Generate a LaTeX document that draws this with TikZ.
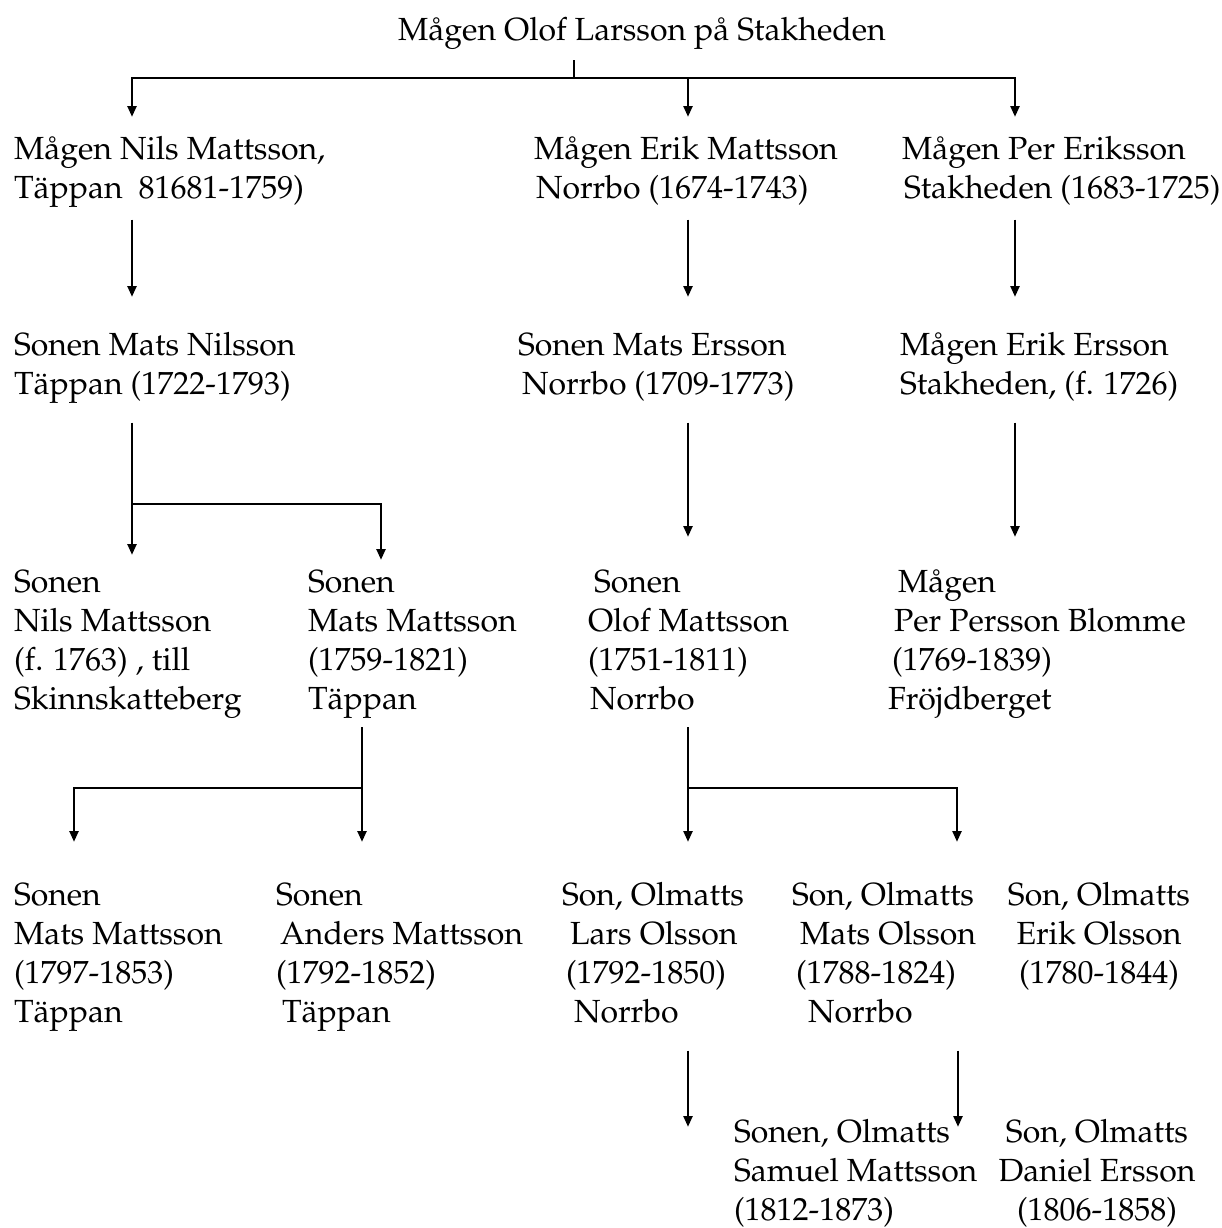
\documentclass[tikz,border=0pt]{standalone}
\usepackage[T1]{fontenc}
\usepackage{mathpazo}
\usetikzlibrary{arrows.meta}
\usetikzlibrary{calc}
\tikzstyle{person} = [anchor=base west, inner sep=0pt, outer sep=0pt, align=left, font=\fontsize{16}{19.5}\selectfont, execute at end node={\rule[-5.85pt]{0pt}{0pt}}]
\tikzstyle{arrow_line} = [->, draw=black, line width=1.4pt]
\tikzstyle{arrow_stub} = [-, draw=black, line width=1.4pt]

\begin{document}
\begin{tikzpicture}[-, > = {Triangle[length=5.5pt,width=4.4pt]}, x=0.5pt, y=-0.5pt]
  \useasboundingbox (0,0) rectangle (1222,1228);

  % Generation 0 (nodes sit on the baseline of their last line)
  \node[person, anchor=base] (root) at (642,40) {Mågen Olof Larsson på Stakheden};

  % Generation 1
  \node[person] (nils) at (14,198) {Mågen Nils Mattsson,\\Täppan~ 81681-1759)};
  \node[person] (erik) at (534,198) {Mågen Erik Mattsson\\\hspace*{1pt}Norrbo (1674-1743)};
  \node[person] (per) at (902,198) {Mågen Per Eriksson\\\hspace*{1pt}Stakheden (1683-1725)};

  % Generation 2
  \node[person] (mats_nilsson) at (14,394) {Sonen Mats Nilsson\\Täppan (1722-1793)};
  \node[person] (mats_ersson) at (518,394) {Sonen Mats Ersson\\\hspace*{2pt}Norrbo (1709-1773)};
  \node[person] (erik_ersson) at (900,394) {Mågen Erik Ersson\\Stakheden, (f. 1726)};

  % Generation 3
  \node[person] (nils_mattsson) at (14,709) {Sonen\\Nils Mattsson\\(f. 1763) , till\\Skinnskatteberg};
  \node[person] (mats_mattsson) at (308,709) {Sonen\\Mats Mattsson\\(1759-1821)\\Täppan};
  \node[person] (olof) at (588,709) {\hspace*{3pt}Sonen\\Olof Mattsson\\(1751-1811)\\\hspace*{1pt}Norrbo};
  \node[person] (per_persson) at (888,709) {\hspace*{5pt}Mågen\\\hspace*{3pt}Per Persson Blomme\\\hspace*{2pt}(1769-1839)\\Fröjdberget};

  % Generation 4
  \node[person] (mats_mattsson2) at (14,1022) {Sonen\\Mats Mattsson\\(1797-1853)\\Täppan};
  \node[person] (anders) at (276,1022) {Sonen\\\hspace*{2pt}Anders Mattsson\\(1792-1852)\\\hspace*{3pt}Täppan};
  \node[person] (lars) at (562,1022) {Son, Olmatts\\\hspace*{4pt}Lars Olsson\\\hspace*{2pt}(1792-1850)\\\hspace*{6pt}Norrbo};
  \node[person] (mats_olsson) at (792,1022) {Son, Olmatts\\\hspace*{4pt}Mats Olsson\\\hspace*{2pt}(1788-1824)\\\hspace*{8pt}Norrbo};
  \node[person, anchor=base, align=center] (erik_olsson) at (1099,983) {Son, Olmatts\\Erik Olsson\\(1780-1844)};

  % Generation 5
  \node[person] (samuel) at (734,1220) {Sonen, Olmatts\\Samuel Mattsson\\(1812-1873)};
  \node[person, anchor=base, align=center] (daniel) at (1097,1220) {Son, Olmatts\\Daniel Ersson\\(1806-1858)};

  % Split points
  \coordinate (root_split) at (574,78);
  \coordinate (nils_split) at (132,504);
  \coordinate (mats_split) at (362,788);
  \coordinate (olof_split) at (688,788);

  % Arrow tips
  \coordinate (nils_tip) at (132,117);
  \coordinate (erik_tip) at (688,117);
  \coordinate (per_tip) at (1015,117);
  \coordinate (mats_nilsson_tip) at (132,297);
  \coordinate (mats_ersson_tip) at (688,297);
  \coordinate (erik_ersson_tip) at (1015,297);
  \coordinate (nils_mattsson_tip) at (132,555);
  \coordinate (mats_mattsson_tip) at (381,560);
  \coordinate (olof_tip) at (688,537);
  \coordinate (per_persson_tip) at (1015,537);
  \coordinate (mats_mattsson2_tip) at (74,842);
  \coordinate (anders_tip) at (362,842);
  \coordinate (lars_tip) at (688,842);
  \coordinate (mats_olsson_tip) at (957,842);
  \coordinate (lars_down) at (688,1127);
  \coordinate (mats_olsson_down) at (958,1127);

  % Generation 0 -> 1
  \path[arrow_stub, shorten <=4.2pt] (root_split |- root.south) -- (root_split);
  \path[arrow_line] (root_split) -| (nils_tip);
  \path[arrow_line] (root_split) -| (erik_tip);
  \path[arrow_line] (root_split) -| (per_tip);

  % Generation 1 -> 2
  \path[arrow_line, shorten <=5pt] (mats_nilsson_tip |- nils.south) -- (mats_nilsson_tip);
  \path[arrow_line, shorten <=5pt] (mats_ersson_tip |- erik.south) -- (mats_ersson_tip);
  \path[arrow_line, shorten <=5pt] (erik_ersson_tip |- per.south) -- (erik_ersson_tip);

  % Generation 2 -> 3
  \path[arrow_line, shorten <=8.5pt] (nils_split |- mats_nilsson.south) -- (nils_mattsson_tip);
  \path[arrow_line] (nils_split) -| (mats_mattsson_tip);
  \path[arrow_line, shorten <=8.5pt] (olof_tip |- mats_ersson.south) -- (olof_tip);
  \path[arrow_line, shorten <=8.5pt] (per_persson_tip |- erik_ersson.south) -- (per_persson_tip);

  % Generation 3 -> 4
  \path[arrow_line, shorten <=3.2pt] (mats_split |- mats_mattsson.south) -- (anders_tip);
  \path[arrow_line] (mats_split) -| (mats_mattsson2_tip);
  \path[arrow_line, shorten <=3.2pt] (olof_split |- olof.south) -- (lars_tip);
  \path[arrow_line] (olof_split) -| (mats_olsson_tip);

  % Generation 4 -> 5
  \path[arrow_line, shorten <=8.5pt] (lars_down |- lars.south) -- (lars_down);
  \path[arrow_line, shorten <=8.5pt] (mats_olsson_down |- mats_olsson.south) -- (mats_olsson_down);

\end{tikzpicture}
\end{document}
